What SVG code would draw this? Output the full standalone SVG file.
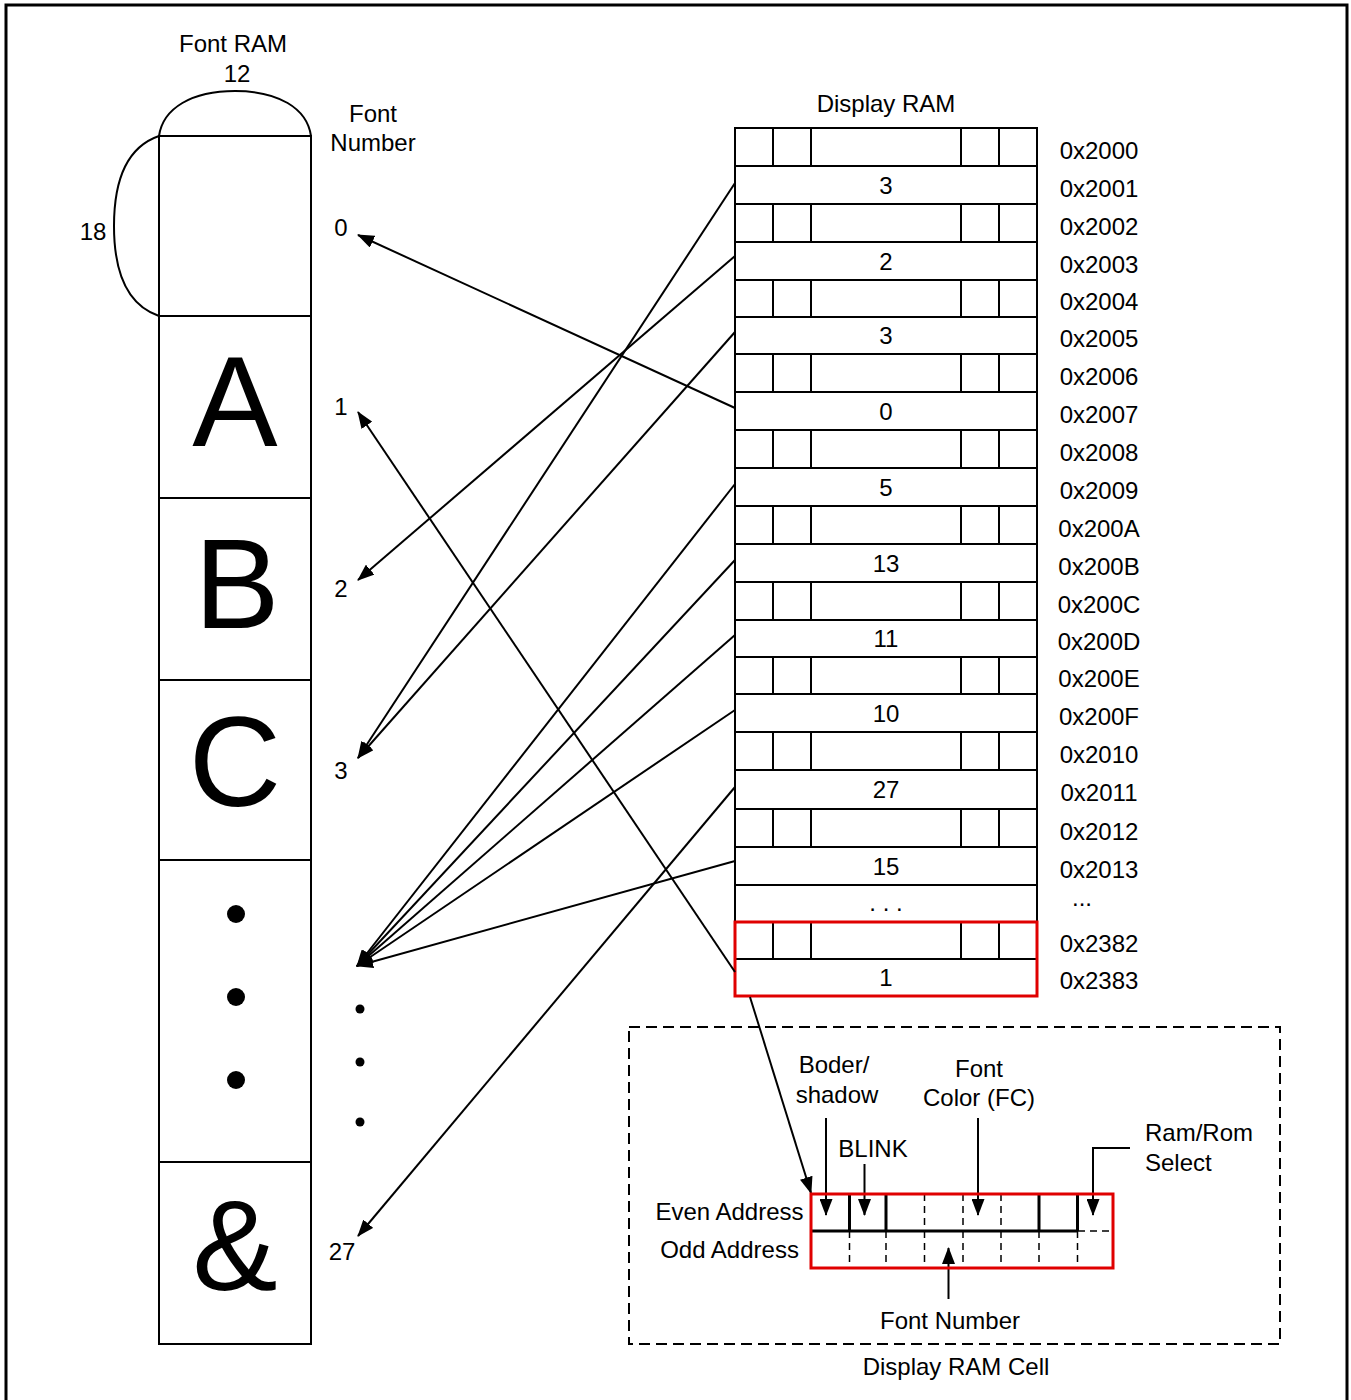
<svg xmlns="http://www.w3.org/2000/svg" width="1351" height="1400" viewBox="0 0 1351 1400">
<style>
.t{font-family:"Liberation Sans",Arial,sans-serif;font-size:24px;fill:#000}
.m{text-anchor:middle}
.big{font-size:128px}
.cell{fill:#fff;stroke:#000;stroke-width:2}
.ln{stroke:#000;stroke-width:2;fill:none}
.thk{stroke:#000;stroke-width:3;fill:none}
.dsh{stroke:#000;stroke-width:1.5;fill:none;stroke-dasharray:7,5}
.red{fill:none;stroke:#e00000;stroke-width:3}
.conn line,.conn path{stroke:#000;stroke-width:2;fill:none;marker-end:url(#ah)}
</style>
<defs>
<marker id="ah" viewBox="0 0 17 13" refX="16" refY="6.5" markerWidth="17" markerHeight="13" orient="auto" markerUnits="userSpaceOnUse">
<path d="M0,0 L17,6.5 L0,13 z" fill="#000"/>
</marker>
<g id="evenDiv">
<path d="M38,0 v38 M76,0 v38 M226,0 v38 M264,0 v38" stroke="#000" stroke-width="2"/>
</g>
</defs>
<rect width="1351" height="1400" fill="#fff"/>
<path d="M6,1404 V5 H1347 V1404" fill="none" stroke="#000" stroke-width="3"/>

<!-- Font RAM -->
<g id="font-ram">
<text class="t m" x="233" y="52">Font RAM</text>
<text class="t m" x="237" y="82">12</text>
<text class="t m" x="93" y="240">18</text>
<path class="ln" d="M159,136 C163,108 192,91 235,91 C278,91 307,108 311,136"/>
<path class="ln" d="M159,136 C130,146 114,176 114,226 C114,276 130,306 159,316"/>
<g id="font-0"><rect class="cell" x="159" y="136" width="152" height="180"/></g>
<g id="font-A"><rect class="cell" x="159" y="316" width="152" height="182"/><text class="t m big" x="235" y="446">A</text></g>
<g id="font-B"><rect class="cell" x="159" y="498" width="152" height="182"/><text class="t m big" x="237" y="628">B</text></g>
<g id="font-C"><rect class="cell" x="159" y="680" width="152" height="180"/><text class="t m big" x="235" y="806">C</text></g>
<g id="font-dots"><rect class="cell" x="159" y="860" width="152" height="302"/>
<circle cx="236" cy="914" r="9"/><circle cx="236" cy="997" r="9"/><circle cx="236" cy="1080" r="9"/></g>
<g id="font-amp"><rect class="cell" x="159" y="1162" width="152" height="182"/><text class="t m big" x="235" y="1290">&amp;</text></g>
</g>

<!-- Font Number labels -->
<g id="font-number">
<text class="t m" x="373" y="122">Font</text>
<text class="t m" x="373" y="151">Number</text>
<text class="t m" x="341" y="236">0</text>
<text class="t m" x="341" y="415">1</text>
<text class="t m" x="341" y="597">2</text>
<text class="t m" x="341" y="779">3</text>
<text class="t m" x="342" y="1260">27</text>
<circle cx="360" cy="1009" r="4.5"/><circle cx="360" cy="1062" r="4.5"/><circle cx="360" cy="1122" r="4.5"/>
</g>

<!-- Display RAM -->
<g id="display-ram">
<text class="t m" x="886" y="112">Display RAM</text>
<g id="r2000"><rect class="cell" x="735" y="128" width="302" height="38"/><use href="#evenDiv" x="735" y="128"/><text class="t m" x="1099" y="158.5">0x2000</text></g>
<g id="r2001"><rect class="cell" x="735" y="166" width="302" height="38"/><text class="t m" x="886" y="193.5">3</text><text class="t m" x="1099" y="196.5">0x2001</text></g>
<g id="r2002"><rect class="cell" x="735" y="204" width="302" height="38"/><use href="#evenDiv" x="735" y="204"/><text class="t m" x="1099" y="234.5">0x2002</text></g>
<g id="r2003"><rect class="cell" x="735" y="242" width="302" height="38"/><text class="t m" x="886" y="269.5">2</text><text class="t m" x="1099" y="272.5">0x2003</text></g>
<g id="r2004"><rect class="cell" x="735" y="280" width="302" height="37"/><use href="#evenDiv" x="735" y="279"/><text class="t m" x="1099" y="310">0x2004</text></g>
<g id="r2005"><rect class="cell" x="735" y="317" width="302" height="37"/><text class="t m" x="886" y="344">3</text><text class="t m" x="1099" y="347">0x2005</text></g>
<g id="r2006"><rect class="cell" x="735" y="354" width="302" height="38"/><use href="#evenDiv" x="735" y="354"/><text class="t m" x="1099" y="384.5">0x2006</text></g>
<g id="r2007"><rect class="cell" x="735" y="392" width="302" height="38"/><text class="t m" x="886" y="419.5">0</text><text class="t m" x="1099" y="422.5">0x2007</text></g>
<g id="r2008"><rect class="cell" x="735" y="430" width="302" height="38"/><use href="#evenDiv" x="735" y="430"/><text class="t m" x="1099" y="460.5">0x2008</text></g>
<g id="r2009"><rect class="cell" x="735" y="468" width="302" height="38"/><text class="t m" x="886" y="495.5">5</text><text class="t m" x="1099" y="498.5">0x2009</text></g>
<g id="r200A"><rect class="cell" x="735" y="506" width="302" height="38"/><use href="#evenDiv" x="735" y="506"/><text class="t m" x="1099" y="536.5">0x200A</text></g>
<g id="r200B"><rect class="cell" x="735" y="544" width="302" height="38"/><text class="t m" x="886" y="571.5">13</text><text class="t m" x="1099" y="574.5">0x200B</text></g>
<g id="r200C"><rect class="cell" x="735" y="582" width="302" height="38"/><use href="#evenDiv" x="735" y="582"/><text class="t m" x="1099" y="612.5">0x200C</text></g>
<g id="r200D"><rect class="cell" x="735" y="620" width="302" height="37"/><text class="t m" x="886" y="647">11</text><text class="t m" x="1099" y="650">0x200D</text></g>
<g id="r200E"><rect class="cell" x="735" y="657" width="302" height="37"/><use href="#evenDiv" x="735" y="656"/><text class="t m" x="1099" y="687">0x200E</text></g>
<g id="r200F"><rect class="cell" x="735" y="694" width="302" height="38"/><text class="t m" x="886" y="721.5">10</text><text class="t m" x="1099" y="724.5">0x200F</text></g>
<g id="r2010"><rect class="cell" x="735" y="732" width="302" height="38"/><use href="#evenDiv" x="735" y="732"/><text class="t m" x="1099" y="762.5">0x2010</text></g>
<g id="r2011"><rect class="cell" x="735" y="770" width="302" height="39"/><text class="t m" x="886" y="798">27</text><text class="t m" x="1099" y="801">0x2011</text></g>
<g id="r2012"><rect class="cell" x="735" y="809" width="302" height="38"/><use href="#evenDiv" x="735" y="809"/><text class="t m" x="1099" y="839.5">0x2012</text></g>
<g id="r2013"><rect class="cell" x="735" y="847" width="302" height="38"/><text class="t m" x="886" y="874.5">15</text><text class="t m" x="1099" y="877.5">0x2013</text></g>
<g id="r-more"><rect class="cell" x="735" y="885" width="302" height="37"/><text class="t m" x="886" y="911">. . .</text><text class="t m" x="1082" y="906">...</text></g>
<g id="r2382"><rect class="cell" x="735" y="922" width="302" height="37"/><use href="#evenDiv" x="735" y="921.5"/><text class="t m" x="1099" y="952">0x2382</text></g>
<g id="r2383"><rect class="cell" x="735" y="959" width="302" height="37"/><text class="t m" x="886" y="986">1</text><text class="t m" x="1099" y="989">0x2383</text></g>
<rect class="red" x="735" y="922" width="302" height="74"/>
</g>

<!-- Connectors -->
<g id="connectors" class="conn">
<line x1="735" y1="183" x2="358" y2="758"/>
<line x1="735" y1="256" x2="358" y2="580"/>
<line x1="735" y1="332" x2="358" y2="758"/>
<line x1="735" y1="408" x2="358" y2="235"/>
<line x1="735" y1="484" x2="357" y2="966"/>
<line x1="735" y1="560" x2="357" y2="966"/>
<line x1="735" y1="635" x2="357" y2="966"/>
<line x1="735" y1="710" x2="357" y2="966"/>
<line x1="735" y1="787" x2="358" y2="1236"/>
<line x1="735" y1="861" x2="357" y2="966"/>
<line x1="735" y1="972" x2="358" y2="412"/>
<line x1="750" y1="997" x2="811" y2="1193"/>
<line x1="826" y1="1118" x2="826" y2="1215"/>
<line x1="864.5" y1="1164" x2="864.5" y2="1215"/>
<line x1="978" y1="1118" x2="978" y2="1215"/>
<path d="M1130,1148 H1093 V1215"/>
<line x1="948.5" y1="1299" x2="948.5" y2="1248"/>
</g>

<!-- Display RAM Cell detail -->
<g id="display-ram-cell">
<rect x="629" y="1027" width="651" height="317" fill="none" stroke="#000" stroke-width="2" stroke-dasharray="11,6"/>
<text class="t m" x="956" y="1375">Display RAM Cell</text>
<text class="t m" x="729.5" y="1220">Even Address</text>
<text class="t m" x="729.5" y="1258">Odd Address</text>
<text class="t m" x="834" y="1073">Boder/</text>
<text class="t m" x="837" y="1102.5">shadow</text>
<text class="t m" x="873" y="1157">BLINK</text>
<text class="t m" x="979" y="1076.5">Font</text>
<text class="t m" x="979" y="1106">Color (FC)</text>
<text class="t" x="1145" y="1141">Ram/Rom</text>
<text class="t" x="1145" y="1171">Select</text>
<text class="t m" x="950" y="1329">Font Number</text>
<path class="thk" d="M811,1231 H1078 M849.5,1194 V1231 M886,1194 V1231 M1039,1194 V1231 M1077.5,1194 V1231"/>
<path class="dsh" d="M1078,1231 H1113 M924.5,1194 V1231 M963,1194 V1231 M1001,1194 V1231 M849.5,1231 V1268 M886,1231 V1268 M924.5,1231 V1268 M963,1231 V1268 M1001,1231 V1268 M1039,1231 V1268 M1077.5,1231 V1268"/>
<rect class="red" x="811" y="1194" width="302" height="74"/>
</g>
</svg>
